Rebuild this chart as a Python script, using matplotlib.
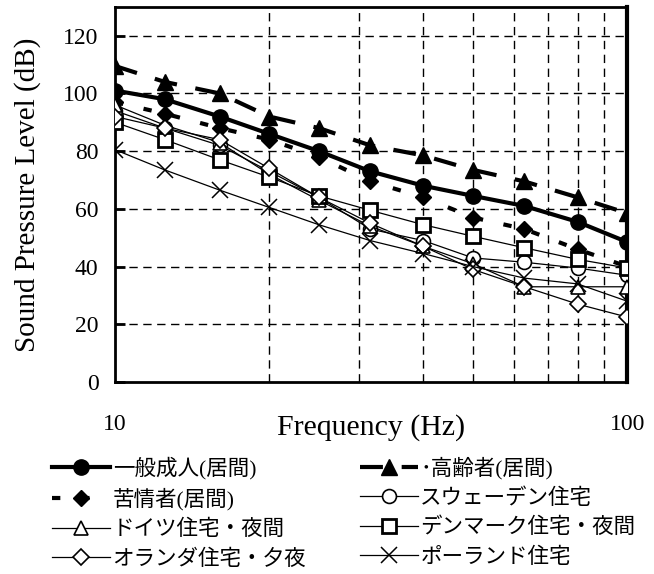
import matplotlib
matplotlib.use("Agg")
import matplotlib.pyplot as plt
from matplotlib.ticker import FixedLocator, NullLocator

# ---- data ----
freq = [10, 12.5, 16, 20, 25, 31.5, 40, 50, 63, 80, 100]
general_adult = [101, 98, 92, 86, 80, 73, 68, 64.5, 61, 55.5, 48.5]
elderly = [109.5, 104, 100, 92, 88, 82, 78.5, 73.5, 69.5, 64, 58.5]
complainant = [97, 93, 88, 84, 78, 69.5, 64, 57, 53, 46, 40]
sweden = [94, 88, 82, 73, 64, 53, 49, 43, 41.5, 39.5, 37]
germany = [96, 89, 83, 72, 63, 54, 47, 41, 33, 33, 33]
denmark = [90, 84, 77, 71, 64.5, 59.5, 54.5, 50.5, 46.5, 42.5, 39.5]
netherlands = [92, 88, 84, 74, 64, 55, 47, 39, 33, 27, 22.5]
poland = [80.5, 73.5, 66.5, 60.5, 54.5, 49, 44.5, 40, 36, 34, 28]

labels = {
    "general": "一般成人(居間)",
    "elderly": "･高齢者(居間)",
    "complain": "苦情者(居間)",
    "sweden": "スウェーデン住宅",
    "germany": "ドイツ住宅・夜間",
    "denmark": "デンマーク住宅・夜間",
    "netherlands": "オランダ住宅・夕夜",
    "poland": "ポーランド住宅",
}
yticks = [0, 20, 40, 60, 80, 100, 120]
xticks = [10, 100]

serif = ['Liberation Serif', 'DejaVu Serif']
jp = ['Liberation Serif', 'Noto Sans CJK JP', 'DejaVu Sans']

fig = plt.figure(figsize=(6.54, 5.74), dpi=100)
ax = fig.add_axes([0.176, 0.3345, 0.783, 0.6535])

ax.set_xscale('log')
ax.set_xlim(10, 100)
ax.set_ylim(0, 130)

# grid
for g in [20, 30, 40, 50, 60, 70, 80, 90]:
    ax.axvline(g, color='black', lw=1.0, ls=(0, (6, 4)), zorder=1)
for g in [20, 40, 60, 80, 100, 120]:
    ax.axhline(g, color='black', lw=1.0, ls=(0, (6, 4)), zorder=1)

thick = 3.0
thin = 0.9
h_general, = ax.plot(freq, general_adult, color='black', lw=thick, marker='o',
                     ms=11, mfc='black', mec='black', zorder=3, label=labels["general"])
h_elderly, = ax.plot(freq, elderly, color='black', lw=thick, ls=(0, (5.5, 4.5)),
                     marker='^', ms=11, mfc='black', mec='black', zorder=3,
                     label=labels["elderly"])
h_complain, = ax.plot(freq, complainant, color='black', lw=thick, ls=(0, (2, 5)),
                      marker='D', ms=8.5, mfc='black', mec='black', zorder=3,
                      label=labels["complain"])
h_sweden, = ax.plot(freq, sweden, color='black', lw=thin, marker='o', ms=10,
                    mfc='white', mec='black', mew=1.2, zorder=4, label=labels["sweden"])
h_germany, = ax.plot(freq, germany, color='black', lw=thin, marker='^', ms=10,
                     mfc='white', mec='black', mew=1.2, zorder=4, label=labels["germany"])
h_denmark, = ax.plot(freq, denmark, color='black', lw=thin, marker='s', ms=10.5,
                     mfc='white', mec='black', mew=2.0, zorder=4, label=labels["denmark"])
h_neth, = ax.plot(freq, netherlands, color='black', lw=thin, marker='D', ms=8,
                  mfc='white', mec='black', mew=1.2, zorder=4, label=labels["netherlands"])
h_poland, = ax.plot(freq, poland, color='black', lw=thin, marker='x', ms=12,
                    mec='black', mew=1.1, zorder=4, label=labels["poland"])

# axes styling
ax.xaxis.set_major_locator(FixedLocator(xticks))
ax.xaxis.set_minor_locator(NullLocator())
ax.set_xticklabels([str(t) for t in xticks], fontfamily=serif, fontsize=17)
ax.tick_params(axis='x', length=0, pad=23)
ax.set_yticks(yticks)
ax.set_yticklabels([str(t) for t in yticks], fontfamily=serif, fontsize=17)
ax.tick_params(axis='y', direction='in', length=7, width=2, pad=12)

for s in ['left', 'bottom', 'top']:
    ax.spines[s].set_linewidth(2.0)
ax.spines['right'].set_linewidth(3.0)

ax.set_ylabel('Sound Pressure Level (dB)', fontfamily=serif, fontsize=21)
ax.yaxis.set_label_coords(-0.145, 0.5)
ax.set_xlabel('Frequency (Hz)', fontfamily=serif, fontsize=21.5)
ax.xaxis.set_label_coords(0.5, -0.085)

handles = [h_general, h_complain, h_germany, h_neth,
           h_elderly, h_sweden, h_denmark, h_poland]
leg = fig.legend(handles=handles, labels=[h.get_label() for h in handles],
                 ncol=2, loc='upper left', bbox_to_anchor=(0.080, 0.205),
                 frameon=False, prop={'family': jp, 'size': 15.5},
                 handlelength=2.7, handletextpad=0.1, labelspacing=0.42,
                 columnspacing=2.5, borderaxespad=0, borderpad=0)

fig.savefig('out.png', dpi=100)
